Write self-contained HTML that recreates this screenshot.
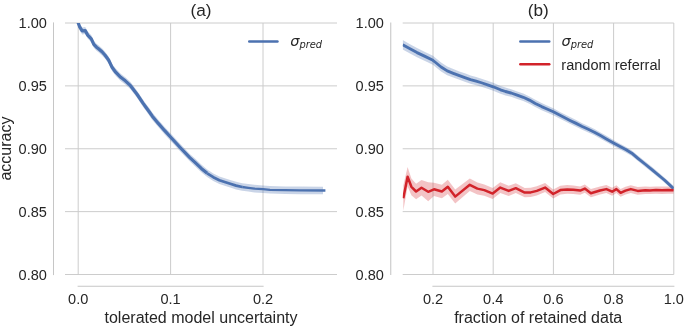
<!DOCTYPE html>
<html><head><meta charset="utf-8"><title>accuracy vs uncertainty</title>
<style>
html,body{margin:0;padding:0;background:#fff;}
body{width:685px;height:328px;overflow:hidden;}
svg{display:block;}
text{font-family:"Liberation Sans",Arial,sans-serif;fill:#262626;}
.tk{font-size:14.55px;}
.lb{font-size:16px;}
.tt{font-size:17.2px;}
.m{font-family:"DejaVu Sans",sans-serif;font-style:italic;}
</style></head><body>
<svg width="685" height="328" viewBox="0 0 685 328">
<rect width="685" height="328" fill="#ffffff"/>
<defs>
<clipPath id="c1"><rect x="65.0" y="23.0" width="272.0" height="251.5"/></clipPath>
<clipPath id="c2"><rect x="402.7" y="23.0" width="271.09999999999997" height="251.5"/></clipPath>
<filter id="nf" filterUnits="userSpaceOnUse" x="0" y="0" width="685" height="328"><feOffset dx="0" dy="0"/></filter>
</defs>
<g stroke="#cccccc" stroke-width="1.0" fill="none">
<line x1="65.0" y1="23.00" x2="337.0" y2="23.00"/>
<line x1="65.0" y1="85.88" x2="337.0" y2="85.88"/>
<line x1="65.0" y1="148.75" x2="337.0" y2="148.75"/>
<line x1="65.0" y1="211.63" x2="337.0" y2="211.63"/>
<line x1="65.0" y1="274.50" x2="337.0" y2="274.50"/>
<line x1="78.20" y1="23.0" x2="78.20" y2="274.5"/>
<line x1="170.60" y1="23.0" x2="170.60" y2="274.5"/>
<line x1="263.00" y1="23.0" x2="263.00" y2="274.5"/>
<line x1="53.50" y1="22.4" x2="53.50" y2="275.1" stroke-width="1.05" stroke="#c6c6c6"/>
<line x1="77.60" y1="286.2" x2="263.60" y2="286.2" stroke-width="1.05" stroke="#c6c6c6"/>
</g>
<g stroke="#cccccc" stroke-width="1.0" fill="none">
<line x1="402.7" y1="23.00" x2="673.8" y2="23.00"/>
<line x1="402.7" y1="85.88" x2="673.8" y2="85.88"/>
<line x1="402.7" y1="148.75" x2="673.8" y2="148.75"/>
<line x1="402.7" y1="211.63" x2="673.8" y2="211.63"/>
<line x1="402.7" y1="274.50" x2="673.8" y2="274.50"/>
<line x1="433.00" y1="23.0" x2="433.00" y2="274.5"/>
<line x1="493.20" y1="23.0" x2="493.20" y2="274.5"/>
<line x1="553.40" y1="23.0" x2="553.40" y2="274.5"/>
<line x1="613.60" y1="23.0" x2="613.60" y2="274.5"/>
<line x1="673.80" y1="23.0" x2="673.80" y2="274.5"/>
<line x1="390.75" y1="22.4" x2="390.75" y2="275.1" stroke-width="1.05" stroke="#c6c6c6"/>
<line x1="432.40" y1="286.2" x2="674.40" y2="286.2" stroke-width="1.05" stroke="#c6c6c6"/>
</g>
<g clip-path="url(#c1)"><polygon points="78.0,18.0 78.3,19.8 79.8,23.7 82.2,27.4 85.2,27.1 87.7,31.6 91.3,35.3 93.8,40.8 96.5,43.7 98.5,45.3 102.0,48.2 104.9,51.4 108.6,56.4 112.2,64.0 115.9,68.8 120.7,73.7 125.3,77.2 130.5,82.1 137.2,90.9 143.3,100.0 146.1,103.9 149.4,108.3 152.3,112.5 158.3,119.7 164.7,127.0 170.5,133.3 180.6,144.3 189.8,153.9 195.0,158.6 201.3,164.6 207.2,169.5 213.3,173.4 219.4,176.4 225.5,178.4 231.0,180.2 236.1,181.8 242.2,183.2 248.3,184.0 254.4,184.8 262.9,185.4 270.0,186.0 285.0,186.4 300.0,186.6 323.0,186.7 323.0,194.3 300.0,194.2 285.0,194.0 270.0,193.6 262.9,193.0 254.4,192.4 248.3,191.6 242.2,190.8 236.1,189.4 231.0,187.8 225.5,186.0 219.4,184.0 213.3,181.0 207.2,177.1 201.3,172.2 195.0,166.2 189.8,161.3 180.6,151.7 170.5,140.7 164.7,134.4 158.3,127.1 152.3,119.9 149.4,115.7 146.1,111.1 143.3,107.2 137.2,98.1 130.5,89.3 125.3,84.4 120.7,80.9 115.9,76.0 112.2,71.2 108.6,63.6 104.9,58.6 102.0,55.4 98.5,52.3 96.5,50.7 93.8,47.8 91.3,42.3 87.7,38.6 85.2,34.1 82.2,34.4 79.8,30.7 78.3,26.8 78.0,25.0" fill="#4c72b0" fill-opacity="0.3"/>
<polyline points="242.2,187.0 248.3,187.8 254.4,188.6 262.9,189.2 270.0,189.8 285.0,190.2 300.0,190.4 325.4,190.5" fill="none" stroke="#4c72b0" stroke-width="2.3" stroke-linejoin="round" stroke-linecap="butt"/>
<polyline points="207.2,173.3 213.3,177.2 219.4,180.2 225.5,182.2 231.0,184.0 236.1,185.6 242.2,187.0" fill="none" stroke="#4c72b0" stroke-width="2.75" stroke-linejoin="round" stroke-linecap="butt"/>
<polyline points="78.0,21.5 78.3,23.3 79.8,27.2 82.2,30.9 85.2,30.6 87.7,35.1 91.3,38.8 93.8,44.3 96.5,47.2 98.5,48.8 102.0,51.8 104.9,55.0 108.6,60.0 112.2,67.6 115.9,72.4 120.7,77.3 125.3,80.8 130.5,85.7 137.2,94.5 143.3,103.6 146.1,107.5 149.4,112.0 152.3,116.2 158.3,123.4 164.7,130.7 170.5,137.0 180.6,148.0 189.8,157.6 195.0,162.4 201.3,168.4 207.2,173.3" fill="none" stroke="#4c72b0" stroke-width="3.2" stroke-linejoin="round" stroke-linecap="butt"/>
</g>
<g clip-path="url(#c2)"><polygon points="402.7,40.1 410.0,44.2 417.0,48.0 425.0,51.9 432.9,55.8 435.0,57.6 441.1,62.6 447.2,66.6 453.3,69.0 459.4,71.4 465.5,73.6 470.5,75.5 476.1,77.0 482.2,78.9 488.3,81.1 493.2,82.8 500.5,85.9 505.5,87.6 511.1,89.2 517.2,91.4 523.3,93.6 529.4,96.4 535.3,99.8 541.6,103.0 547.0,105.5 553.3,108.3 560.0,111.9 570.0,117.1 576.1,120.1 582.2,123.3 588.3,126.1 594.4,129.1 600.5,132.5 605.5,135.3 613.5,139.9 619.6,143.4 625.7,146.7 631.8,150.4 637.9,155.5 645.0,161.3 652.2,167.1 664.4,177.4 673.7,186.1 673.7,191.1 664.4,182.6 652.2,172.5 645.0,166.7 637.9,161.1 631.8,156.0 625.7,152.5 619.6,149.2 613.5,145.9 605.5,141.5 600.5,138.7 594.4,135.3 588.3,132.5 582.2,129.7 576.1,126.7 570.0,123.7 560.0,118.7 553.3,115.3 547.0,112.5 541.6,110.2 535.3,107.0 529.4,103.8 523.3,101.0 517.2,99.0 511.1,96.8 505.5,95.4 500.5,93.7 493.2,90.8 488.3,89.1 482.2,87.1 476.1,85.2 470.5,83.7 465.5,82.0 459.4,79.8 453.3,77.6 447.2,75.2 441.1,71.4 435.0,66.4 432.9,64.8 425.0,60.9 417.0,57.2 410.0,53.4 402.7,49.5" fill="#4c72b0" fill-opacity="0.3"/>
<polygon points="403.3,185.6 407.6,167.0 411.4,178.4 416.1,183.8 421.5,180.0 428.2,182.3 434.0,182.7 441.9,184.7 447.8,179.7 455.2,189.6 469.8,178.5 477.4,182.6 484.3,184.4 492.7,188.1 500.3,182.3 508.7,185.8 515.8,183.3 524.7,187.9 530.7,187.8 536.8,186.3 545.1,183.1 553.2,189.6 560.4,185.8 567.2,185.1 573.3,185.4 580.2,186.4 584.8,184.4 590.9,189.1 600.0,186.4 606.4,185.1 612.1,187.7 616.4,185.2 620.6,188.9 625.5,186.7 630.8,185.3 637.7,187.1 645.3,186.4 650.0,186.7 656.0,186.4 662.0,186.6 668.0,186.5 673.7,186.6 673.7,193.8 668.0,193.7 662.0,194.0 656.0,193.8 650.0,194.1 645.3,194.0 637.7,194.7 630.8,192.9 625.5,194.5 620.6,196.7 616.4,193.0 612.1,195.7 606.4,193.1 600.0,194.6 590.9,197.3 584.8,192.8 580.2,194.8 573.3,194.0 567.2,193.7 560.4,194.4 553.2,198.4 545.1,192.1 536.8,195.5 530.7,197.0 524.7,197.3 515.8,193.1 508.7,196.0 500.3,192.9 492.7,199.1 484.3,195.8 477.4,194.6 469.8,191.1 455.2,203.6 447.8,193.9 441.9,198.3 434.0,195.9 428.2,201.3 421.5,195.4 416.1,199.2 411.4,195.2 407.6,186.6 403.3,210.8" fill="#d2232a" fill-opacity="0.27"/>
<polyline points="402.7,44.8 410.0,48.8 417.0,52.6 425.0,56.4 432.9,60.3 435.0,62.0 441.1,67.0 447.2,70.9 453.3,73.3 459.4,75.6 465.5,77.8 470.5,79.6 476.1,81.1 482.2,83.0 488.3,85.1 493.2,86.8 500.5,89.8 505.5,91.5 511.1,93.0 517.2,95.2 523.3,97.3 529.4,100.1 535.3,103.4 541.6,106.6 547.0,109.0 553.3,111.8 560.0,115.3 570.0,120.4 576.1,123.4 582.2,126.5 588.3,129.3 594.4,132.2 600.5,135.6 605.5,138.4 613.5,142.9 619.6,146.3 625.7,149.6 631.8,153.2 637.9,158.3 645.0,164.0 652.2,169.8 664.4,180.0 673.7,188.6" fill="none" stroke="#4c72b0" stroke-width="2.85" stroke-linejoin="round"/>
<polyline points="403.3,198.2 407.6,176.8 411.4,186.8 416.1,191.5 421.5,187.7 428.2,191.8 434.0,189.3 441.9,191.5 447.8,186.8 455.2,196.6 469.8,184.8 477.4,188.6 484.3,190.1 492.7,193.6 500.3,187.6 508.7,190.9 515.8,188.2 524.7,192.6 530.7,192.4 536.8,190.9 545.1,187.6 553.2,194.0 560.4,190.1 567.2,189.4 573.3,189.7 580.2,190.6 584.8,188.6 590.9,193.2 600.0,190.5 606.4,189.1 612.1,191.7 616.4,189.1 620.6,192.8 625.5,190.6 630.8,189.1 637.7,190.9 645.3,190.2 650.0,190.4 656.0,190.1 662.0,190.3 668.0,190.1 673.7,190.2" fill="none" stroke="#d2232a" stroke-width="2.5" stroke-linejoin="round"/></g>
<line x1="249.2" y1="41.5" x2="277.5" y2="41.5" stroke="#4c72b0" stroke-width="2.4" stroke-linecap="round"/>
<line x1="520.3" y1="41.5" x2="549.3" y2="41.5" stroke="#4c72b0" stroke-width="2.4" stroke-linecap="round"/>
<line x1="520.3" y1="64.2" x2="549.3" y2="64.2" stroke="#d2232a" stroke-width="2.4" stroke-linecap="round"/>
<g filter="url(#nf)">
<text class="tk" x="46.90" y="28.10" text-anchor="end">1.00</text>
<text class="tk" x="46.90" y="90.98" text-anchor="end">0.95</text>
<text class="tk" x="46.90" y="153.85" text-anchor="end">0.90</text>
<text class="tk" x="46.90" y="216.73" text-anchor="end">0.85</text>
<text class="tk" x="46.90" y="279.60" text-anchor="end">0.80</text>
<text class="tk" x="78.20" y="304.0" text-anchor="middle">0.0</text>
<text class="tk" x="170.60" y="304.0" text-anchor="middle">0.1</text>
<text class="tk" x="263.00" y="304.0" text-anchor="middle">0.2</text>
<text class="tk" x="383.92" y="28.10" text-anchor="end">1.00</text>
<text class="tk" x="383.92" y="90.98" text-anchor="end">0.95</text>
<text class="tk" x="383.92" y="153.85" text-anchor="end">0.90</text>
<text class="tk" x="383.92" y="216.73" text-anchor="end">0.85</text>
<text class="tk" x="383.92" y="279.60" text-anchor="end">0.80</text>
<text class="tk" x="433.00" y="304.0" text-anchor="middle">0.2</text>
<text class="tk" x="493.20" y="304.0" text-anchor="middle">0.4</text>
<text class="tk" x="553.40" y="304.0" text-anchor="middle">0.6</text>
<text class="tk" x="613.60" y="304.0" text-anchor="middle">0.8</text>
<text class="tk" x="673.80" y="304.0" text-anchor="middle">1.0</text>
<text class="tt" x="201.0" y="15.7" text-anchor="middle">(a)</text>
<text class="tt" x="538.2" y="15.7" text-anchor="middle">(b)</text>
<text class="lb" x="201.0" y="322.7" text-anchor="middle">tolerated model uncertainty</text>
<text class="lb" x="538.2" y="322.7" text-anchor="middle">fraction of retained data</text>
<text class="lb" transform="translate(10.7,148.6) rotate(-90)" text-anchor="middle">accuracy</text>
<text class="tk m" x="290.3" y="45.9">σ<tspan font-size="9.9px" dy="2.4" dx="-0.1">pred</tspan></text>
<text class="tk m" x="561.5" y="45.9">σ<tspan font-size="9.9px" dy="2.4" dx="-0.1">pred</tspan></text>
<text class="tk" x="561.3" y="69.6">random referral</text>
</g>
</svg></body></html>
